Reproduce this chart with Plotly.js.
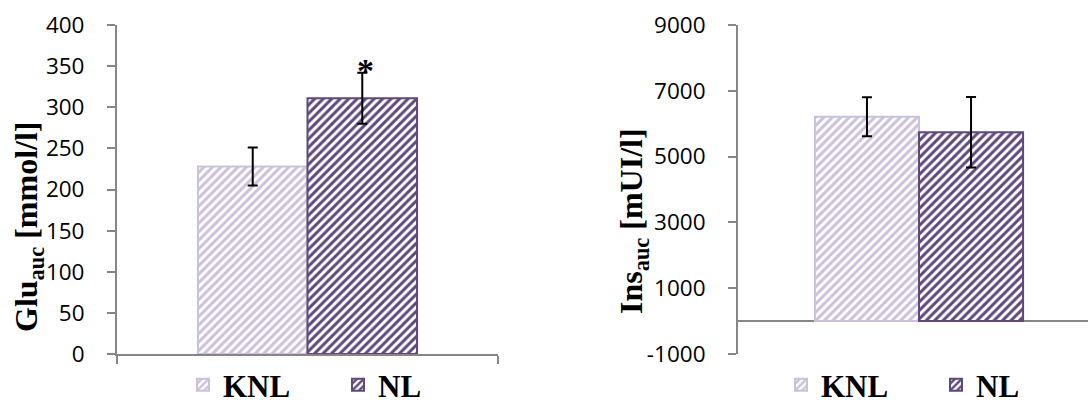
<!DOCTYPE html>
<html>
<head>
<meta charset="utf-8">
<script src="https://cdn.plot.ly/plotly-3.0.1.min.js"></script>
<style>html,body{margin:0;padding:0;background:#fff;}#chart{width:1088px;height:400px;}</style>
</head>
<body>
<div id="chart"></div>
<script>
// ---- data ----
const groups = ["KNL", "NL"];
const gluValues = [228, 311];
const gluErrors = [23, 31];
const insValues = [6210, 5740];
const insErrors = [595, 1075];
const gluTicks = [0, 50, 100, 150, 200, 250, 300, 350, 400];
const insTicks = [-1000, 1000, 3000, 5000, 7000, 9000];
const insTickLabels = ["-1000", "1000", "3000", "5000", "7000", "9000"];
const significance = ["", "*"];

// ---- styles ----
const lightPurple = "#ccc1da";
const darkPurple = "#5f497a";
const fills = [lightPurple, darkPurple];
const axisGray = "#868686";
const tickFont = {family: "Open Sans, Noto Sans, sans-serif", size: 22.5, color: "#000"};
const serifBold = {family: "Liberation Serif, Times New Roman, serif", size: 32, color: "#000", weight: "bold"};
const legendFont = {family: "Liberation Serif, Times New Roman, serif", size: 31, color: "#000", weight: "bold"};
const BARGAP = 0.425;

function barTrace(i, vals, errs, xa, ya, legend) {
  return {
    type: "bar",
    name: groups[i],
    x: [0],
    y: [vals[i]],
    xaxis: xa, yaxis: ya,
    legend: legend,
    offsetgroup: groups[i],
    marker: {
      color: "#ffffff",
      line: {color: fills[i], width: 2},
      pattern: {shape: "/", fgcolor: fills[i], bgcolor: "#ffffff", size: 6, solidity: 0.5, fillmode: "replace"}
    },
    error_y: {type: "data", array: [errs[i]], visible: true, color: "#000", thickness: 2, width: 5},
    hoverinfo: "skip"
  };
}

const traces = [];
groups.forEach((g, i) => traces.push(barTrace(i, gluValues, gluErrors, "x", "y", "legend")));
groups.forEach((g, i) => traces.push(barTrace(i, insValues, insErrors, "x2", "y2", "legend2")));

const W = 1088, H = 400;
const plotTop = 25, plotBottom = 354;
const yDom = [1 - plotBottom / H, 1 - plotTop / H];

const barW = (1 - BARGAP) / groups.length;
const annotations = [];
significance.forEach((s, i) => {
  if (!s) return;
  annotations.push({
    xref: "x", yref: "y",
    x: -(1 - BARGAP) / 2 + barW * (i + 0.5),
    y: gluValues[i] + gluErrors[i],
    text: s, showarrow: false,
    font: {family: serifBold.family, size: 34, color: "#000", weight: "bold"},
    yanchor: "middle", xanchor: "center", yshift: 2, xshift: 3
  });
});
annotations.push({
  xref: "paper", yref: "paper", x: 28 / W, y: 1 - 227 / H,
  text: "Glu<sub>auc</sub> [mmol/l]", textangle: -90, showarrow: false,
  font: serifBold, xanchor: "center", yanchor: "middle"
});
annotations.push({
  xref: "paper", yref: "paper", x: 633 / W, y: 1 - 221 / H,
  text: "Ins<sub>auc</sub> [mUI/l]", textangle: -90, showarrow: false,
  font: serifBold, xanchor: "center", yanchor: "middle"
});

const rightPx = 362;
const layout = {
  width: W, height: H,
  margin: {l: 0, r: 0, t: 0, b: 0, autoexpand: false},
  paper_bgcolor: "#fff", plot_bgcolor: "#fff",
  barmode: "group", bargap: BARGAP, bargroupgap: 0,
  showlegend: true,
  xaxis: {
    domain: [117 / W, 498 / W], range: [-0.5, 0.5],
    showline: true, linecolor: axisGray, linewidth: 2,
    tickvals: [-0.5, 0.5], ticks: "outside", ticklen: 8, tickwidth: 2, tickcolor: axisGray,
    showticklabels: false, showgrid: false, zeroline: false, fixedrange: true
  },
  yaxis: {
    domain: yDom, range: [0, 400], anchor: "x",
    tickvals: gluTicks, ticks: "outside", ticklen: 8, tickwidth: 2, tickcolor: axisGray,
    showline: true, linecolor: axisGray, linewidth: 2,
    showgrid: false, zeroline: false, tickfont: tickFont, ticklabelstandoff: 18
  },
  xaxis2: {
    domain: [738 / W, 1], range: [-0.5, -0.5 + (W - 738) / rightPx], anchor: "y2",
    showline: false, ticks: "", showticklabels: false, showgrid: false, zeroline: false
  },
  yaxis2: {
    domain: yDom, range: [-1000, 9000], anchor: "x2",
    tickvals: insTicks, ticktext: insTickLabels, ticks: "outside", ticklen: 8, tickwidth: 2, tickcolor: axisGray,
    showline: true, linecolor: axisGray, linewidth: 2,
    showgrid: false, zeroline: true, zerolinecolor: axisGray, zerolinewidth: 2,
    tickfont: tickFont, ticklabelstandoff: 18
  },
  legend: {
    orientation: "h", x: 183 / W, xanchor: "left", y: 1 - 385 / H, yanchor: "middle",
    font: legendFont, entrywidth: 110, bgcolor: "rgba(0,0,0,0)", traceorder: "normal"
  },
  legend2: {
    orientation: "h", x: 781 / W, xanchor: "left", y: 1 - 385 / H, yanchor: "middle",
    font: legendFont, entrywidth: 110, bgcolor: "rgba(0,0,0,0)", traceorder: "normal"
  },
  annotations: annotations
};

Plotly.newPlot("chart", traces, layout, {staticPlot: true, displayModeBar: false});
</script>
</body>
</html>
